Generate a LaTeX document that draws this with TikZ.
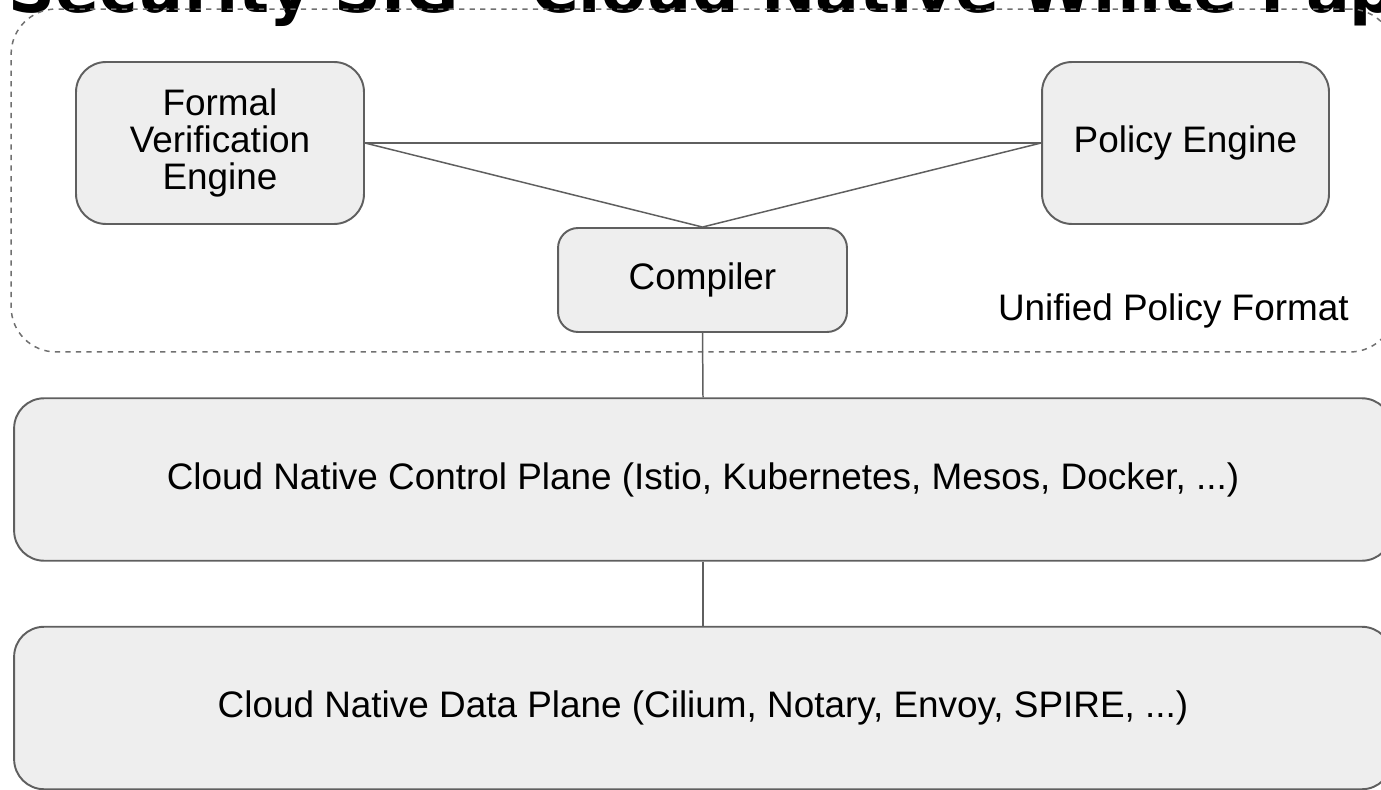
\documentclass[tikz,border=0pt]{standalone}
\usepackage{fontspec}
\setmainfont{Liberation Sans}
\newfontfamily\titlefont{DejaVu Sans}
\definecolor{boxfill}{HTML}{EEEEEE}
\definecolor{boxline}{HTML}{5F5F5F}
\definecolor{frameline}{HTML}{707070}
\begin{document}
\begin{tikzpicture}[x=0.02cm, y=-0.02cm,
  box/.style={draw=boxline, line width=1.1pt, fill=boxfill, rounded corners=0.6cm,
    align=center, inner sep=0pt, font=\fontsize{21}{21}\selectfont},
  plane/.style={box, minimum width=27.56cm, minimum height=3.25cm},
  link/.style={draw=boxline, line width=0.85pt}]
\path[use as bounding box, clip] (0,0) rectangle (1381,790);

% heading, cut off by the page edge
\node[anchor=base west, inner sep=0pt, font=\titlefont\bfseries\fontsize{37}{40}\selectfont]
  (title) at (8,13) {Security SIG - Cloud Native White Paper};

% policy layer
\node[draw=frameline, dashed, line width=0.85pt, rounded corners=0.9cm,
  minimum width=27.68cm, minimum height=6.86cm, inner sep=0pt] (upf) at (703,180.5) {};
\node[box, minimum width=5.76cm, minimum height=3.24cm] (formal) at (220,143)
  {\rule{0pt}{6pt}Formal\\Verification\\Engine};
\node[box, minimum width=5.74cm, minimum height=3.24cm] (policy) at (1185.5,143) {Policy Engine};
\node[box, rounded corners=0.4cm, minimum width=5.78cm, minimum height=2.08cm] (compiler) at (702.5,280) {Compiler};
\node[anchor=base east, inner sep=0pt, font=\fontsize{21}{21}\selectfont] (upflabel) at (1349,320)
  {Unified Policy Format};

% planes
\node[plane] (control) at (703,479.5) {Cloud Native Control Plane (Istio, Kubernetes, Mesos, Docker, ...)};
\node[plane] (data) at (703,708) {Cloud Native Data Plane (Cilium, Notary, Envoy, SPIRE, ...)};

\draw[link] (formal.east) -- (policy.west);
\draw[link] (formal.east) -- (compiler.north);
\draw[link] (policy.west) -- (compiler.north);
\draw[link] (compiler.south) -- (control.north);
\draw[link] (control.south) -- (data.north);
\end{tikzpicture}
\end{document}
